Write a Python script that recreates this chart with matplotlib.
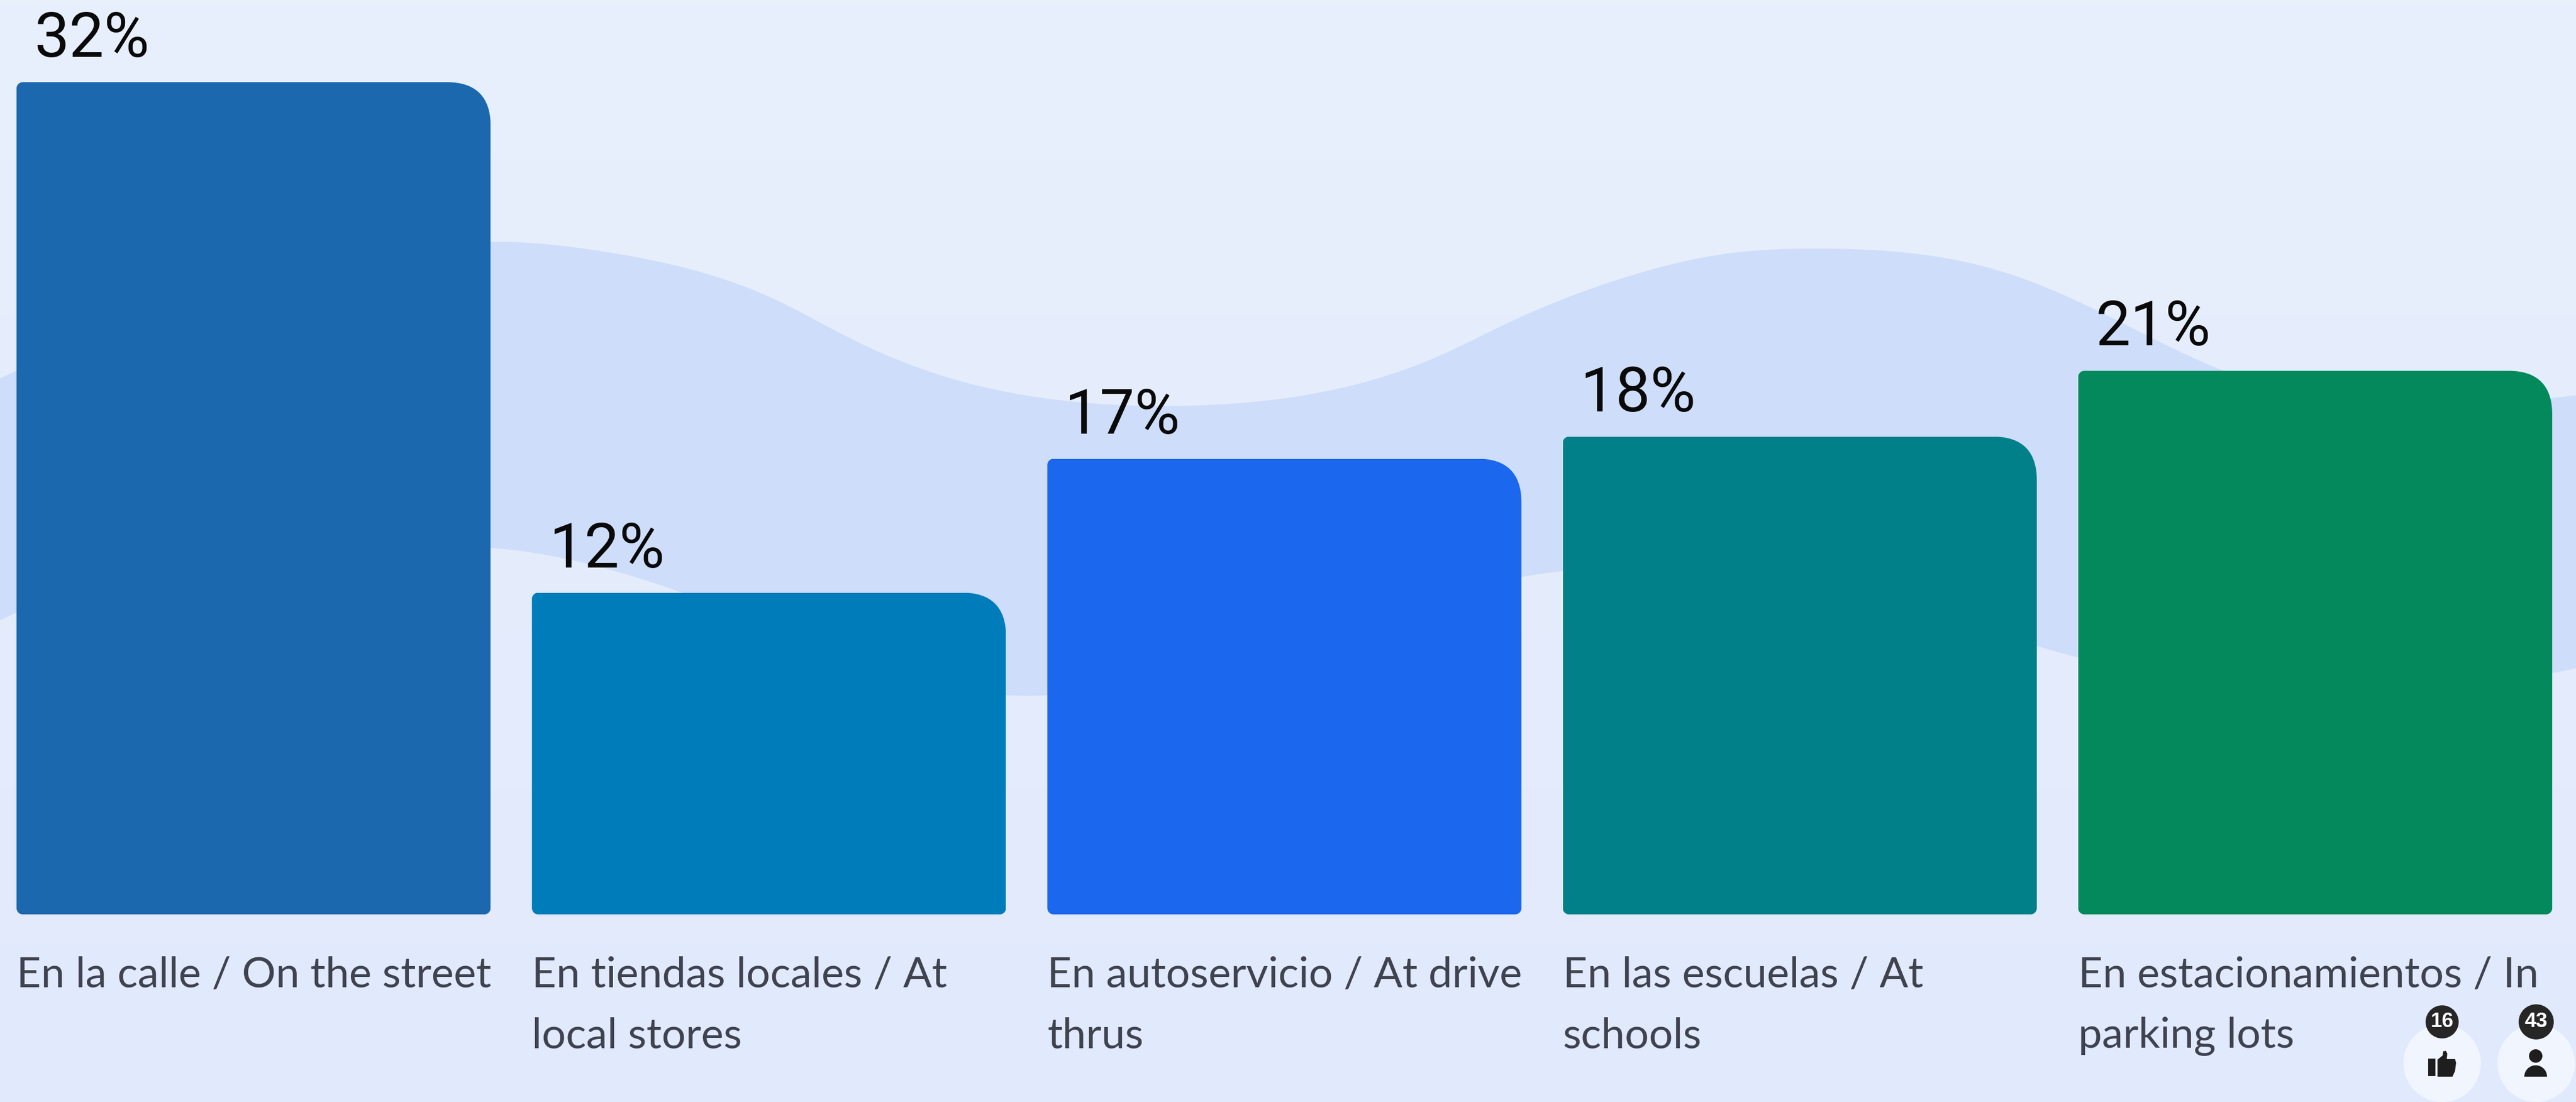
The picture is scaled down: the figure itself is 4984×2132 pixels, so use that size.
import matplotlib
matplotlib.use("Agg")
import matplotlib.pyplot as plt
import numpy as np
from matplotlib.path import Path
from matplotlib.patches import Circle, Polygon, Wedge
from matplotlib.transforms import IdentityTransform

# ---- data -------------------------------------------------------------
categories = [
    "En la calle / On the street",
    "En tiendas locales / At\nlocal stores",
    "En autoservicio / At drive\nthrus",
    "En las escuelas / At\nschools",
    "En estacionamientos / In\nparking lots",
]
value_labels = ["32%", "12%", "17%", "18%", "21%"]
bar_heights = [32.0, 12.37, 17.52, 18.37, 20.9]   # as drawn in the picture
bar_colors = ["#1C68AE", "#017CBA", "#1B67ED", "#028089", "#03895B"]
likes_count = "16"
people_count = "43"

W, H = 4984, 2132
DPI = 100
fig = plt.figure(figsize=(W / DPI, H / DPI), dpi=DPI)

# ---- background in pixel coordinates ----------------------------------
bg = fig.add_axes([0, 0, 1, 1], zorder=0)
bg.set_xlim(0, W)
bg.set_ylim(H, 0)
bg.axis("off")
top_c = np.array([232, 240, 252]) / 255
bot_c = np.array([225, 233, 253]) / 255
grad = np.linspace(0, 1, 256)[:, None, None] * (bot_c - top_c) + top_c
bg.imshow(grad, extent=[0, W, H, 0], aspect="auto", zorder=0)

wave_top_x = [0, 32, 500, 949, 1150, 1361, 1501, 1642, 1817, 2040, 2290, 2550, 2797, 2900,
              3166, 3325, 3538, 3750, 3897, 4070, 4296, 4600, 4937, 4984]
wave_top_y = [732, 717, 560, 468, 484, 528, 580, 653, 725, 773, 785, 760, 683, 633,
              530, 493, 481, 497, 533, 607, 715, 785, 770, 765]
wave_bot_x = [0, 32, 500, 949, 1029, 1500, 1947, 2026, 2500, 2945, 3023, 3500, 3942, 4020, 4500, 4938, 4984]
wave_bot_y = [1200, 1185, 1100, 1060, 1069, 1215, 1345, 1345, 1240, 1116, 1105, 1130, 1250, 1272, 1345, 1302, 1293]


def spline(xs, ys, xq):
    """Natural cubic spline through the outline points."""
    xs, ys = np.asarray(xs, float), np.asarray(ys, float)
    n = len(xs)
    h = np.diff(xs)
    A = np.zeros((n, n))
    b = np.zeros(n)
    A[0, 0] = A[-1, -1] = 1
    for i in range(1, n - 1):
        A[i, i - 1:i + 2] = h[i - 1], 2 * (h[i - 1] + h[i]), h[i]
        b[i] = 6 * ((ys[i + 1] - ys[i]) / h[i] - (ys[i] - ys[i - 1]) / h[i - 1])
    m = np.linalg.solve(A, b)
    i = np.clip(np.searchsorted(xs, xq) - 1, 0, n - 2)
    t0, t1 = xs[i + 1] - xq, xq - xs[i]
    return (m[i] * t0 ** 3 + m[i + 1] * t1 ** 3) / (6 * h[i]) \
        + (ys[i] / h[i] - m[i] * h[i] / 6) * t0 + (ys[i + 1] / h[i] - m[i + 1] * h[i] / 6) * t1


xq = np.linspace(0, W, 1200)
outline = np.vstack([np.column_stack([xq, spline(wave_top_x, wave_top_y, xq)]),
                     np.column_stack([xq[::-1], spline(wave_bot_x, wave_bot_y, xq[::-1])])])
bg.add_patch(Polygon(outline, closed=True, fc="#CEDDF9", ec="none", zorder=1))

# ---- bars -------------------------------------------------------------
BASE_Y = 1769
TOP_Y = 159
LEFT, RIGHT = 32, 4938
ax = fig.add_axes([LEFT / W, 1 - BASE_Y / H, (RIGHT - LEFT) / W, (BASE_Y - TOP_Y) / H], zorder=2)
ax.patch.set_alpha(0)
ax.axis("off")
x = np.arange(len(categories))
pitch = 997.0
bar_w = 917 / pitch
ax.set_xlim(-bar_w / 2, len(categories) - 1 + bar_w / 2)
ax.set_ylim(0, 32)
bars = ax.bar(x, bar_heights, width=bar_w, color=bar_colors, linewidth=0)
fig.canvas.draw()


def rounded_clip(rect):
    """Outline: big squircle corner top-right, tiny radius elsewhere (display px)."""
    (x0, y0), (x1, y1) = ax.transData.transform(rect.get_bbox().get_points())
    R, r = 84.0, 12.0
    K = 0.66
    k = 0.5523
    v = [(x0 + r, y0), (x1 - r, y0),
         (x1 - r + k * r, y0), (x1, y0 + r - k * r), (x1, y0 + r),
         (x1, y1 - R),
         (x1, y1 - R + K * R), (x1 - R + K * R, y1), (x1 - R, y1),
         (x0 + r, y1),
         (x0 + r - k * r, y1), (x0, y1 - r + k * r), (x0, y1 - r),
         (x0, y0 + r),
         (x0, y0 + r - k * r), (x0 + r - k * r, y0), (x0 + r, y0),
         (x0 + r, y0)]
    c = [Path.MOVETO, Path.LINETO,
         Path.CURVE4, Path.CURVE4, Path.CURVE4,
         Path.LINETO,
         Path.CURVE4, Path.CURVE4, Path.CURVE4,
         Path.LINETO,
         Path.CURVE4, Path.CURVE4, Path.CURVE4,
         Path.LINETO,
         Path.CURVE4, Path.CURVE4, Path.CURVE4,
         Path.CLOSEPOLY]
    return Path(v, c)


for b in bars:
    b.set_clip_path(rounded_clip(b), IdentityTransform())

# ---- texts ------------------------------------------------------------
PX = 72 / DPI  # points per output pixel
for i, b in enumerate(bars):
    left_px = ax.transData.transform((b.get_x(), 0))[0]
    top_px = H - ax.transData.transform((0, b.get_height()))[1]
    bg.text(left_px + 34, top_px - 49, value_labels[i], fontsize=120 * PX, family="Roboto",
            fontweight="normal", color="#0A0A0A", ha="left", va="baseline", zorder=5)
    for line, base in zip(categories[i].split("\n"), (1910, 2027)):
        bg.text(left_px, base, line, fontsize=82 * PX, family="Lato",
                color="#3F4350", ha="left", va="baseline", zorder=5)

# ---- small badges -----------------------------------------------------
BADGE_C = "#F1F6FE"
for cx in (4725, 4907):
    bg.add_patch(Circle((cx, 2057), 75, fc=BADGE_C, ec="none", zorder=3))
for cx, rad, txt in ((4725, 32, likes_count), (4907, 34, people_count)):
    bg.add_patch(Circle((cx, 1977), rad, fc="#262626", ec="none", zorder=4))
    bg.text(cx, 1976, txt, fontsize=40 * PX, family="Liberation Sans", fontweight="bold",
            color="white", ha="center", va="center", zorder=5)

# thumb icon
ink = "#1E1E1E"
bg.add_patch(plt.Rectangle((4698, 2048), 14, 34, fc=ink, ec="none", zorder=4))
thumb = [(4716, 2083), (4716, 2050), (4726, 2042), (4727, 2034), (4732, 2033), (4735, 2038),
         (4734, 2049), (4750, 2049), (4752, 2056), (4750, 2072), (4745, 2083)]
bg.add_patch(Polygon(thumb, closed=True, fc=ink, ec="none", zorder=4))

# person icon
bg.add_patch(Circle((4906, 2043), 13, fc=ink, ec="none", zorder=4))
bg.add_patch(Wedge((4906, 2083), 22, 180, 360, fc=ink, ec="none", zorder=4))

fig.savefig("out.png", dpi=DPI)
